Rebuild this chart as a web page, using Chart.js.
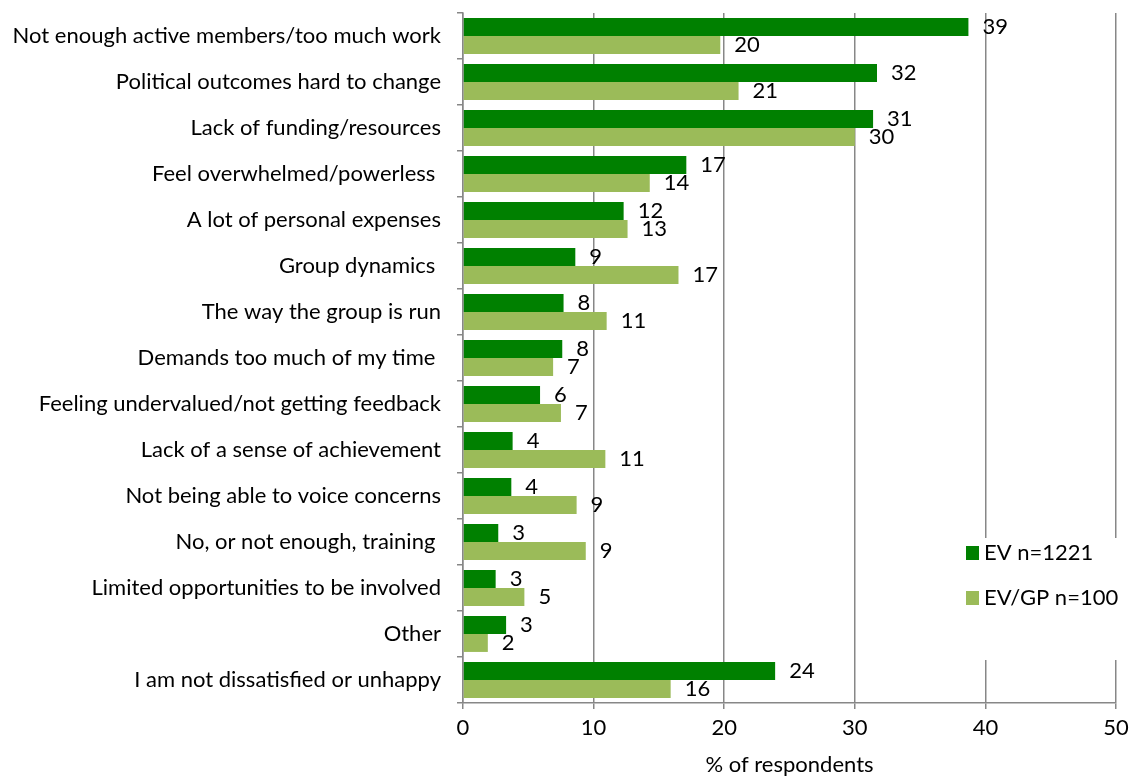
<!DOCTYPE html>
<html>
<head>
<meta charset="utf-8">
<title>Reasons for dissatisfaction</title>
<script src="https://cdn.jsdelivr.net/npm/chart.js@4.4.1/dist/chart.umd.min.js"></script>
<style>
  html, body { margin: 0; padding: 0; background: #fff; }
  #wrap { width: 1129px; height: 776px; }
</style>
</head>
<body>
<div id="wrap"><canvas id="chart" width="1129" height="776"></canvas></div>
<script>
// --- data ---
const categories = [
  'Not enough active members/too much work',
  'Political outcomes hard to change',
  'Lack of funding/resources',
  'Feel overwhelmed/powerless ',
  'A lot of personal expenses',
  'Group dynamics ',
  'The way the group is run',
  'Demands too much of my time ',
  'Feeling undervalued/not getting feedback',
  'Lack of a sense of achievement',
  'Not being able to voice concerns',
  'No, or not enough, training ',
  'Limited opportunities to be involved',
  'Other',
  'I am not dissatisfied or unhappy'
];
const evValues = [38.7, 31.7, 31.4, 17.1, 12.3, 8.6, 7.7, 7.6, 5.9, 3.8, 3.7, 2.7, 2.5, 3.3, 23.9];
const gpValues = [19.7, 21.1, 30.0, 14.3, 12.6, 16.5, 11.0, 6.9, 7.5, 10.9, 8.7, 9.4, 4.7, 1.9, 15.9];
const evLabels = ['39', '32', '31', '17', '12', '9', '8', '8', '6', '4', '4', '3', '3', '3', '24'];
const gpLabels = ['20', '21', '30', '14', '13', '17', '11', '7', '7', '11', '9', '9', '5', '2', '16'];
const xTicks = [0, 10, 20, 30, 40, 50];

const FONT = 'Lato, "Open Sans", sans-serif';
const FS = 22;
const GRID = '#878787';

// value labels right of each bar
const valueLabels = {
  id: 'valueLabels',
  afterDatasetsDraw(chart) {
    const ctx = chart.ctx;
    const sets = [evLabels, gpLabels];
    ctx.save();
    ctx.font = FS + 'px ' + FONT;
    ctx.fillStyle = '#000';
    ctx.textAlign = 'left';
    ctx.textBaseline = 'middle';
    chart.data.datasets.forEach((ds, di) => {
      chart.getDatasetMeta(di).data.forEach((bar, i) => {
        ctx.fillText(sets[di][i], bar.x + 14, bar.y);
      });
    });
    ctx.restore();
  }
};

// legend box sitting over the gridlines, lower right
const boxLegend = {
  id: 'boxLegend',
  afterDraw(chart) {
    const ctx = chart.ctx;
    ctx.save();
    ctx.fillStyle = '#fff';
    ctx.fillRect(948, 538, 178, 122);
    ctx.font = FS + 'px ' + FONT;
    ctx.textBaseline = 'middle';
    chart.data.datasets.forEach((ds, i) => {
      const y = 553 + i * 45;
      ctx.fillStyle = ds.backgroundColor;
      ctx.fillRect(966, y - 7, 13, 14);
      ctx.fillStyle = '#000';
      ctx.fillText(ds.label, 984, y);
    });
    ctx.restore();
  }
};

new Chart(document.getElementById('chart'), {
  type: 'bar',
  data: {
    labels: categories,
    datasets: [
      { label: 'EV n=1221', data: evValues, backgroundColor: '#008000' },
      { label: 'EV/GP n=100', data: gpValues, backgroundColor: '#9BBB59' }
    ]
  },
  options: {
    indexAxis: 'y',
    responsive: false,
    animation: false,
    layout: { padding: { top: 13, right: 13, left: 0, bottom: 0 } },
    datasets: { bar: { categoryPercentage: 0.78, barPercentage: 1.0, borderWidth: 0 } },
    plugins: {
      legend: { display: false },
      tooltip: { enabled: false }
    },
    scales: {
      x: {
        min: 0,
        max: 50,
        afterBuildTicks: s => { s.ticks = xTicks.map(v => ({ value: v })); },
        afterFit: s => { s.height = 73; s.paddingLeft = 0; s.paddingRight = 0; },
        grid: { color: GRID, lineWidth: 1.5, tickLength: 6, drawTicks: true },
        border: { color: GRID, width: 1.5 },
        ticks: { color: '#000', font: { family: FONT, size: FS }, padding: 6 },
        title: {
          display: true,
          text: '% of respondents',
          color: '#000',
          font: { family: FONT, size: FS, lineHeight: 1 },
          padding: { top: 2, bottom: 0 }
        }
      },
      y: {
        afterFit: s => { s.width = 463; s.paddingTop = 0; s.paddingBottom = 0; },
        grid: { offset: true, drawOnChartArea: false, color: GRID, lineWidth: 1.5, tickLength: 6 },
        border: { color: GRID, width: 1.5 },
        ticks: { color: '#000', font: { family: FONT, size: FS }, padding: 16, autoSkip: false }
      }
    }
  },
  plugins: [valueLabels, boxLegend]
});
</script>
</body>
</html>
